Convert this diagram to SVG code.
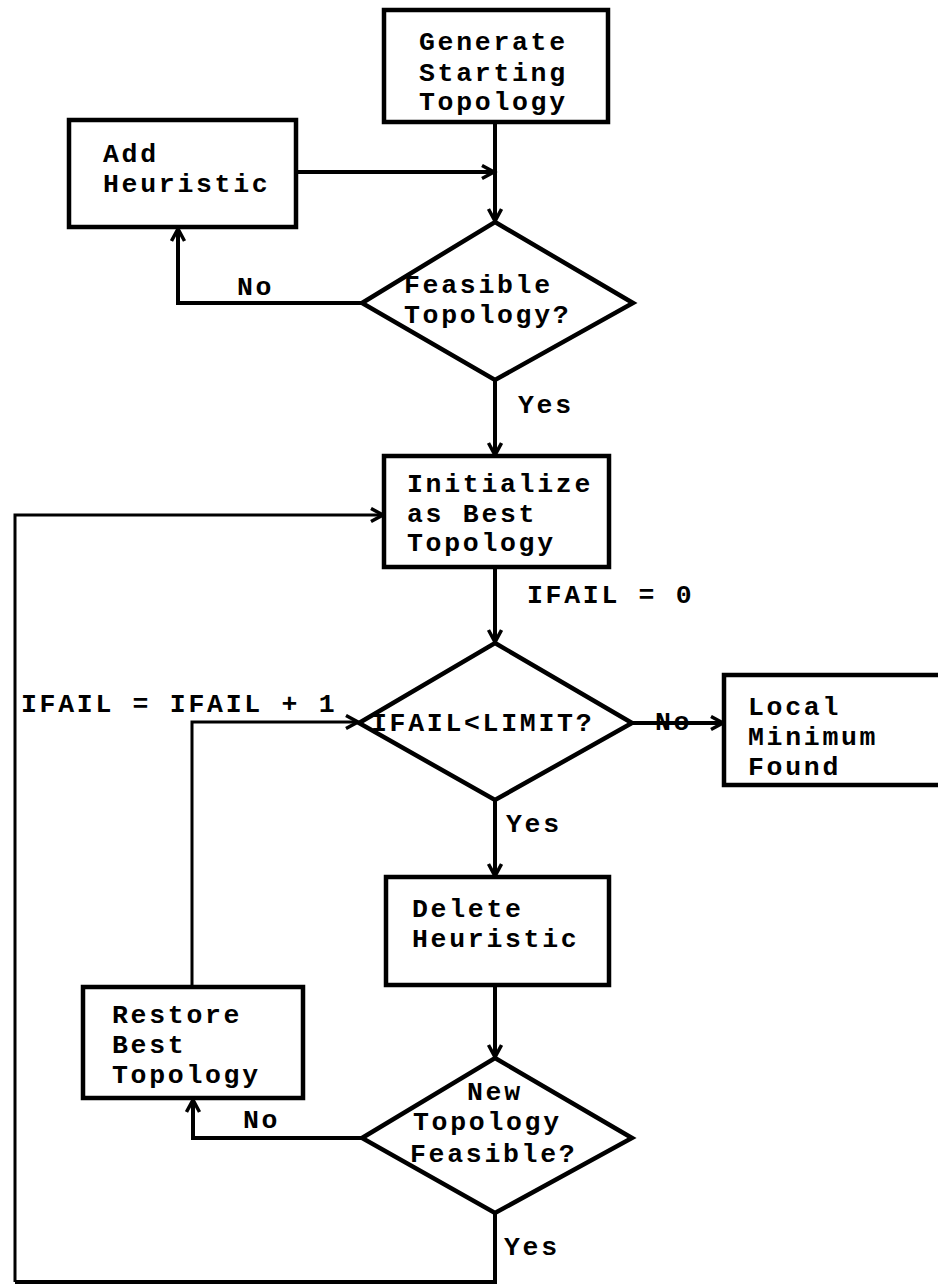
<svg xmlns="http://www.w3.org/2000/svg" width="938" height="1288" viewBox="0 0 938 1288">
  <style>
    .box { fill: #fff; stroke: #000; stroke-width: 4.5; }
    .dec { fill: #fff; stroke: #000; stroke-width: 4.5; stroke-linejoin: miter; }
    .wire { fill: none; stroke: #000; stroke-width: 4; }
    .thin { fill: none; stroke: #000; stroke-width: 3; }
    text { font-family: "Liberation Mono", "Courier New", monospace; font-size: 26.5px; letter-spacing: 2.7px; font-weight: bold; fill: #000; }
  </style>
  <defs>
    <marker id="arrow" markerUnits="userSpaceOnUse" markerWidth="18" markerHeight="18" refX="14" refY="8" orient="auto">
      <path d="M2,1.5 L14,8 L2,14.5" fill="none" stroke="#000" stroke-width="3.5"/>
    </marker>
  </defs>

  <!-- connectors -->
  <g id="connectors">
    <path class="wire" d="M495,122 V221" marker-end="url(#arrow)"/>
    <path class="wire" d="M296,172 H494" marker-end="url(#arrow)"/>
    <path class="wire" d="M362,303 H178 V229" marker-end="url(#arrow)"/>
    <path class="wire" d="M495,380 V455" marker-end="url(#arrow)"/>
    <path class="thin" d="M15,1282 V515 H383" marker-end="url(#arrow)"/>
    <path class="wire" d="M495,567 V642" marker-end="url(#arrow)"/>
    <path class="wire" d="M632,723 H723" marker-end="url(#arrow)"/>
    <path class="wire" d="M495,800 V876" marker-end="url(#arrow)"/>
    <path class="wire" d="M495,985 V1057" marker-end="url(#arrow)"/>
    <path class="wire" d="M362,1138 H193 V1100" marker-end="url(#arrow)"/>
    <path class="thin" d="M192,987 V722 H358" marker-end="url(#arrow)"/>
    <path class="wire" d="M495,1213 V1282 H15"/>
  </g>

  <!-- connector labels -->
  <g id="labels">
    <text x="237" y="295">No</text>
    <text x="518" y="413">Yes</text>
    <text x="527" y="603">IFAIL = 0</text>
    <text x="21" y="712">IFAIL = IFAIL + 1</text>
    <text x="655" y="730">No</text>
    <text x="506" y="832">Yes</text>
    <text x="243" y="1128">No</text>
    <text x="504" y="1255">Yes</text>
  </g>

  <g id="generate">
    <rect class="box" x="384" y="10" width="224" height="112"/>
    <text x="419" y="50">Generate</text>
    <text x="419" y="81">Starting</text>
    <text x="419" y="110">Topology</text>
  </g>

  <g id="add-heuristic">
    <rect class="box" x="69" y="120" width="227" height="107"/>
    <text x="103" y="162">Add</text>
    <text x="103" y="192">Heuristic</text>
  </g>

  <g id="feasible">
    <polygon class="dec" points="495,222 633,303 495,380 362,303"/>
    <text x="404" y="293">Feasible</text>
    <text x="404" y="323">Topology?</text>
  </g>

  <g id="initialize">
    <rect class="box" x="384" y="456" width="225" height="111"/>
    <text x="407" y="492">Initialize</text>
    <text x="407" y="522">as Best</text>
    <text x="407" y="551">Topology</text>
  </g>

  <g id="limit-check">
    <polygon class="dec" points="495,643 632,723 495,800 359,723"/>
    <text x="371" y="731">IFAIL&lt;LIMIT?</text>
  </g>

  <g id="local-minimum">
    <rect class="box" x="724" y="675" width="230" height="110"/>
    <text x="748" y="715">Local</text>
    <text x="748" y="745">Minimum</text>
    <text x="748" y="775">Found</text>
  </g>

  <g id="delete-heuristic">
    <rect class="box" x="386" y="877" width="223" height="108"/>
    <text x="412" y="917">Delete</text>
    <text x="412" y="947">Heuristic</text>
  </g>

  <g id="restore">
    <rect class="box" x="83" y="987" width="220" height="111"/>
    <text x="112" y="1023">Restore</text>
    <text x="112" y="1053">Best</text>
    <text x="112" y="1083">Topology</text>
  </g>

  <g id="new-feasible">
    <polygon class="dec" points="495,1058 632,1138 495,1213 362,1138"/>
    <text x="467" y="1100">New</text>
    <text x="413" y="1130">Topology</text>
    <text x="410" y="1162">Feasible?</text>
  </g>
</svg>
